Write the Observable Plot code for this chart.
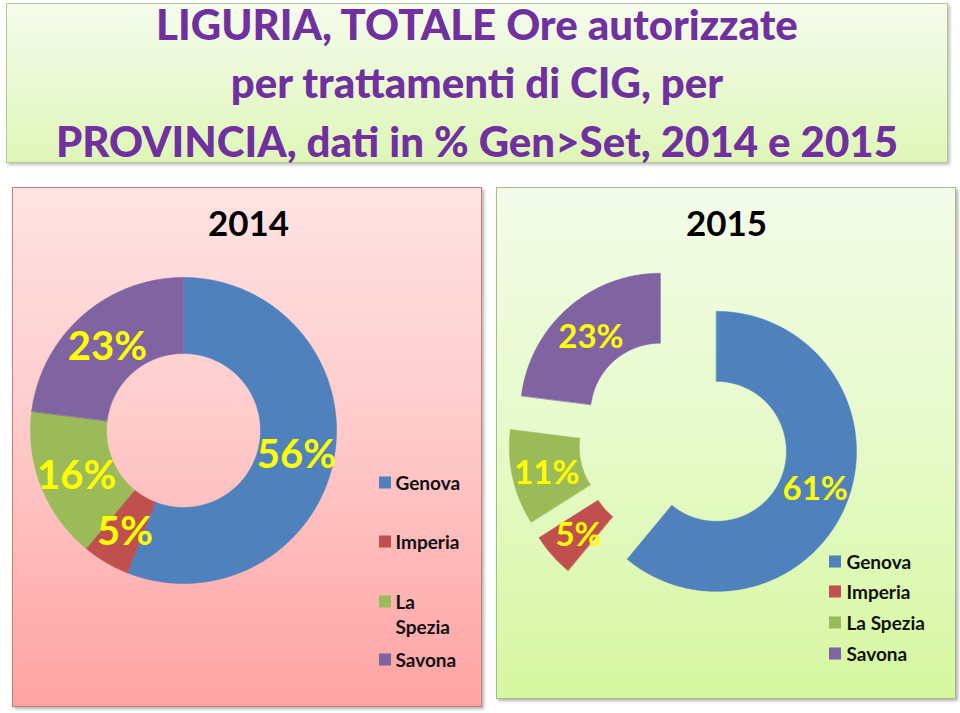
<!DOCTYPE html>
<html>
<head>
<meta charset="utf-8">
<script src="https://cdn.jsdelivr.net/npm/d3@7"></script>
<script src="https://cdn.jsdelivr.net/npm/@observablehq/plot@0.6"></script>
<style>
  html, body { margin: 0; padding: 0; background: #ffffff; }
  #page { position: relative; width: 960px; height: 713px; overflow: hidden; font-family: Lato, "Open Sans", sans-serif; }
  .box { position: absolute; box-sizing: border-box; }
  #titlebox { left: 6px; top: 3px; width: 942px; height: 160px;
    background: linear-gradient(to bottom, #F5FCEC 0%, #EAF9D3 50%, #DFF6B7 100%);
    border: 1px solid #B5C98E; box-shadow: 2px 2px 3px rgba(0,0,0,0.25); }
  #titletext { position: absolute; left: 6px; top: -5.5px; width: 942px; text-align: center;
    color: #7030A0; font-weight: 900; font-size: 42px; line-height: 58.5px; white-space: nowrap; }
  #panel14 { left: 12px; top: 187px; width: 470px; height: 520px;
    background: linear-gradient(to bottom, #FFE3E3 0%, #FFC8C8 50%, #FFA3A3 100%);
    border: 1px solid #C97B79; box-shadow: 2px 2px 3px rgba(0,0,0,0.3); }
  #panel15 { left: 496px; top: 187px; width: 460px; height: 512px;
    background: linear-gradient(to bottom, #F3FCE9 0%, #E6FAC9 50%, #D6F7A0 100%);
    border: 1px solid #A9B98A; box-shadow: 2px 2px 3px rgba(0,0,0,0.3); }
  #chart { position: absolute; left: 0; top: 0; }
</style>
</head>
<body>
<div id="page">
  <div class="box" id="titlebox"></div>
  <div class="box" id="panel14"></div>
  <div class="box" id="panel15"></div>
  <div id="titletext"></div>
  <div id="chart"></div>
</div>
<script>
// ---- data ----
const titleLines = [
  "LIGURIA, TOTALE Ore autorizzate",
  "per trattamenti di CIG, per",
  "PROVINCIA, dati in % Gen>Set, 2014 e 2015"
];
const provinces = ["Genova", "Imperia", "La Spezia", "Savona"];
const legendLabels2014 = ["Genova", "Imperia", "La\nSpezia", "Savona"];
const legendLabels2015 = ["Genova", "Imperia", "La Spezia", "Savona"];
const sliceColors = ["#4F81BD", "#C0504D", "#9BBB59", "#8064A2"];
const years = ["2014", "2015"];
const share2014 = [56, 5, 16, 23];
const share2015 = [61, 5, 11, 23];

// ---- layout (pixels) ----
const layout = {
  "2014": {cx: 183, cy: 430, R: 153, r: 77, explode: 0, labelSize: 40,
           titleX: 248, titleY: 224, legendX: 384.5, textX: 395, legendY: [482, 541, 601, 659],
           legendLabels: legendLabels2014, values: share2014},
  "2015": {cx: 683, cy: 439, R: 140, r: 70, explode: 35, labelSize: 33,
           titleX: 726, titleY: 224, legendX: 834.5, textX: 846, legendY: [561, 591, 622, 653],
           legendLabels: legendLabels2015, values: share2015}
};

document.getElementById("titletext").innerHTML = titleLines.map(s => `<div>${s.replace(/&/g,"&amp;").replace(/</g,"&lt;").replace(/>/g,"&gt;")}</div>`).join("");

const rad = Math.PI / 180;
const arcPoints = [];
const labels = [];
const legendItems = [];
const panelTitles = [];

for (const year of years) {
  const L = layout[year];
  const vals = L.values;
  const total = d3.sum(vals);
  let acc = 0;
  vals.forEach((v, i) => {
    const a0 = acc / total * 360;
    const a1 = (acc + v) / total * 360;
    acc += v;
    const mid = (a0 + a1) / 2;
    const ox = L.explode * Math.sin(mid * rad);
    const oy = -L.explode * Math.cos(mid * rad);
    const key = year + "-" + provinces[i];
    const n = Math.max(4, Math.ceil((a1 - a0) / 0.5));
    for (let k = 0; k <= n; k++) {
      const a = (a0 + (a1 - a0) * k / n) * rad;
      arcPoints.push({key, province: provinces[i], x: L.cx + ox + L.R * Math.sin(a), y: L.cy + oy - L.R * Math.cos(a)});
    }
    for (let k = n; k >= 0; k--) {
      const a = (a0 + (a1 - a0) * k / n) * rad;
      arcPoints.push({key, province: provinces[i], x: L.cx + ox + L.r * Math.sin(a), y: L.cy + oy - L.r * Math.cos(a)});
    }
    const rho = (L.R + L.r) / 2;
    labels.push({year, text: v + "%", x: L.cx + ox + rho * Math.sin(mid * rad), y: L.cy + oy - rho * Math.cos(mid * rad)});
    legendItems.push({year, province: provinces[i], label: L.legendLabels[i], x: L.legendX, tx: L.textX, y: L.legendY[i]});
  });
  panelTitles.push({text: year, x: L.titleX, y: L.titleY});
}

const chart = Plot.plot({
  width: 960,
  height: 713,
  margin: 0,
  x: {domain: [0, 960], range: [0, 960], axis: null},
  y: {domain: [0, 713], range: [0, 713], axis: null},
  color: {domain: provinces, range: sliceColors},
  style: {background: "transparent", fontFamily: "Lato, 'Open Sans', sans-serif"},
  marks: [
    Plot.line(arcPoints, {x: "x", y: "y", z: "key", fill: "province", stroke: "province", strokeWidth: 0.6, curve: "linear-closed"}),
    Plot.text(labels.filter(d => d.year === "2014"), {x: "x", y: "y", text: "text", fill: "#FFFF00", fontSize: layout["2014"].labelSize, fontWeight: "bold", dy: 3}),
    Plot.text(labels.filter(d => d.year === "2015"), {x: "x", y: "y", text: "text", fill: "#FFFF00", fontSize: layout["2015"].labelSize, fontWeight: "bold", dy: 3}),
    Plot.text(panelTitles, {x: "x", y: "y", text: "text", fill: "#000000", fontSize: 35, fontWeight: "bold"}),
    Plot.dot(legendItems, {x: "x", y: "y", symbol: "square", fill: "province", r: 6.8}),
    Plot.text(legendItems, {x: "tx", y: "y", text: "label", textAnchor: "start", lineAnchor: "top", dy: -11, lineHeight: 1.35, fill: "#111111", fontSize: 19, fontWeight: "bold"})
  ]
});
document.getElementById("chart").appendChild(chart);
</script>
</body>
</html>
